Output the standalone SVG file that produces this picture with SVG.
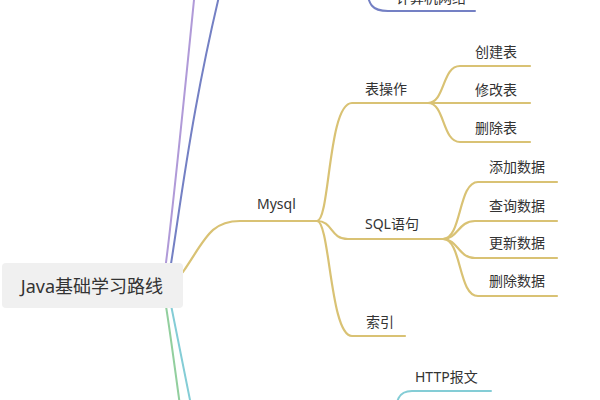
<svg xmlns="http://www.w3.org/2000/svg" width="600" height="400" viewBox="0 0 600 400">
<style>
text{font-family:"Noto Sans","Noto Sans CJK SC",sans-serif;fill:#333;font-size:14px}
.root{font-size:18px}
path{fill:none;stroke-linecap:round}
.gold{stroke:#d9c274;stroke-width:2.2}
.purple{stroke:#b09ad8;stroke-width:2}
.blue{stroke:#7480c4;stroke-width:2}
.green{stroke:#92cf9e;stroke-width:2}
.teal{stroke:#84cdd6;stroke-width:2}
</style>
<rect width="600" height="400" fill="#fff"/>
<g id="connectors">
<path class="purple" d="M165,270 C172,220 182,120 196,-20"/>
<path class="blue" d="M170,270 C180,210 192,100 228,-40"/>
<path class="blue" d="M366,-15 C368,5 372,11 388,11 L475,11"/>
<path class="green" d="M165,300 C170,330 175,370 182,420"/>
<path class="teal" d="M170,300 C176,330 184,370 194,420"/>
<path class="teal" d="M395,420 C396,400 398,391 412,391 L491,391"/>
<path class="gold" d="M183,272 C205,240 210,221 240,221 L317,221"/>
<path class="gold" d="M317,221 C330,221 328,103 352,103 L428,103"/>
<path class="gold" d="M317,221 C333,221 330,239 348,239 L443,239"/>
<path class="gold" d="M317,221 C330,221 330,336 352,336 L405,336"/>
<path class="gold" d="M428,103 C445,103 442,66 460,66 L530,66"/>
<path class="gold" d="M428,103 L530,103"/>
<path class="gold" d="M428,103 C445,103 442,142 460,142 L530,142"/>
<path class="gold" d="M443,239 C462,239 458,182 478,182 L557,182"/>
<path class="gold" d="M443,239 C458,239 458,221 475,221 L557,221"/>
<path class="gold" d="M443,239 C458,239 458,258 475,258 L557,258"/>
<path class="gold" d="M443,239 C462,239 458,296 478,296 L557,296"/>
</g>
<g id="root">
<rect x="2" y="263" width="181" height="45" rx="4" fill="#f0f0f0"/>
<text class="root" x="92" y="293" text-anchor="middle">Java基础学习路线</text>
</g>
<g id="n-net"><text x="396" y="3">计算机网络</text></g>
<g id="n-mysql"><text x="257" y="209">Mysql</text></g>
<g id="n-table"><text x="365" y="94">表操作</text></g>
<g id="n-create"><text x="475" y="57">创建表</text></g>
<g id="n-alter"><text x="475" y="95">修改表</text></g>
<g id="n-drop"><text x="475" y="133">删除表</text></g>
<g id="n-sql"><text x="365" y="229">SQL语句</text></g>
<g id="n-insert"><text x="489" y="172">添加数据</text></g>
<g id="n-select"><text x="489" y="211">查询数据</text></g>
<g id="n-update"><text x="489" y="248">更新数据</text></g>
<g id="n-delete"><text x="489" y="286">删除数据</text></g>
<g id="n-index"><text x="366" y="327">索引</text></g>
<g id="n-http"><text x="415" y="382">HTTP报文</text></g>
</svg>
